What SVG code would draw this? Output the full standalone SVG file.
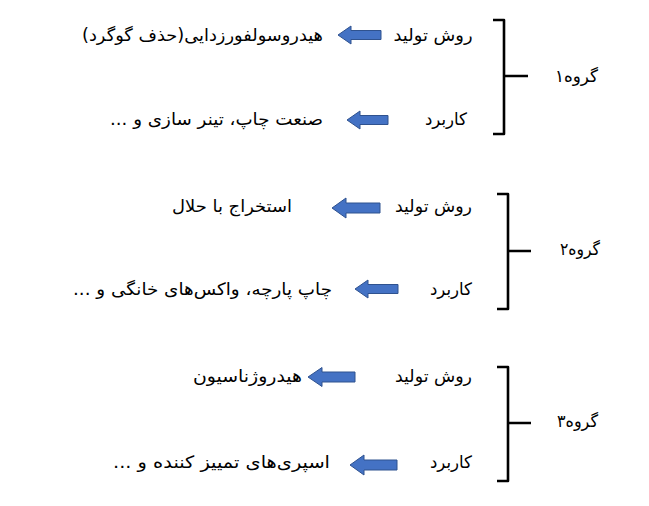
<svg xmlns="http://www.w3.org/2000/svg" width="649" height="506" viewBox="0 0 649 506">
<style>
  text { font-family: "DejaVu Sans", sans-serif; font-size: 17px; fill: #000; direction: rtl; unicode-bidi: embed; text-anchor: middle; }
  .brace { fill: none; stroke: #000; stroke-width: 2.6; stroke-linejoin: round; stroke-linecap: butt; }
  .arrow { fill: #4472C4; stroke: #2F528F; stroke-width: 1; }
</style>
<rect width="649" height="506" fill="#fff"/>

<g id="group1">
  <text x="433" y="41" textLength="79" lengthAdjust="spacingAndGlyphs">روش تولید</text>
  <text x="202.5" y="41" textLength="241" lengthAdjust="spacingAndGlyphs">هیدروسولفورزدایی(حذف گوگرد)</text>
  <text x="446" y="125" textLength="42" lengthAdjust="spacingAndGlyphs">کاربرد</text>
  <text x="216.5" y="125" textLength="213" lengthAdjust="spacingAndGlyphs">صنعت چاپ، تینر سازی و ...</text>
  <text x="576.5" y="82" textLength="43" lengthAdjust="spacingAndGlyphs">گروه۱</text>
</g>

<g id="group2">
  <text x="433.5" y="212" textLength="77" lengthAdjust="spacingAndGlyphs">روش تولید</text>
  <text x="232" y="212" textLength="120" lengthAdjust="spacingAndGlyphs">استخراج با حلال</text>
  <text x="451" y="295" textLength="42" lengthAdjust="spacingAndGlyphs">کاربرد</text>
  <text x="202.5" y="295" textLength="259" lengthAdjust="spacingAndGlyphs">چاپ پارچه، واکس‌های خانگی و ...</text>
  <text x="580" y="255" textLength="40" lengthAdjust="spacingAndGlyphs">گروه۲</text>
</g>

<g id="group3">
  <text x="433.5" y="382" textLength="77" lengthAdjust="spacingAndGlyphs">روش تولید</text>
  <text x="247.5" y="382" textLength="109" lengthAdjust="spacingAndGlyphs">هیدروژناسیون</text>
  <text x="451" y="468" textLength="42" lengthAdjust="spacingAndGlyphs">کاربرد</text>
  <text x="221.5" y="468" textLength="217" lengthAdjust="spacingAndGlyphs">اسپری‌های تمییز کننده و ...</text>
  <text x="577.5" y="427" textLength="41" lengthAdjust="spacingAndGlyphs">گروه۳</text>
</g>

<g id="connectors">
  <path class="brace" d="M493,20 H504 V134 H493 M504,76 H528"/>
  <path class="brace" d="M497,194 H508 V309 H497 M508,251 H531"/>
  <path class="brace" d="M497,367 H508 V481 H497 M508,423 H531"/>

  <path class="arrow" d="M338,35 L351,26 L351,30.5 L381,30.5 L381,39.5 L351,39.5 L351,44 Z"/>
  <path class="arrow" d="M347,120 L360,111 L360,115.5 L388,115.5 L388,124.5 L360,124.5 L360,129 Z"/>
  <path class="arrow" d="M332,208 L346,198 L346,203 L380,203 L380,213 L346,213 L346,218 Z"/>
  <path class="arrow" d="M355,289 L368,280 L368,284.5 L398,284.5 L398,293.5 L368,293.5 L368,298 Z"/>
  <path class="arrow" d="M308,377 L322,367.5 L322,372 L355,372 L355,382 L322,382 L322,386.5 Z"/>
  <path class="arrow" d="M350,465 L364,455 L364,460 L397,460 L397,470 L364,470 L364,475 Z"/>
</g>
</svg>
